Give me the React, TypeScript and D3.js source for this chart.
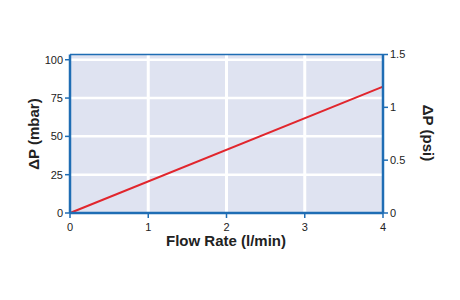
import React from "react";
import * as d3 from "d3";

const flowRate = [0, 4];
const pressureMbar = [0, 82.5];
const xTicks = [0, 1, 2, 3, 4];
const mbarTicks = [0, 25, 50, 75, 100];
const psiTicks = [0, 0.5, 1, 1.5];
const psiTickLabels = ["0", "0.5", "1", "1.5"];
const MBAR_PER_PSI = 68.9476;

export default function App() {
  const W = 460, H = 300;
  const left = 70, right = 383, top = 54.5, bottom = 213;
  const x = d3.scaleLinear().domain([0, 4]).range([left, right]);
  const yPsi = d3.scaleLinear().domain([0, 1.5]).range([bottom, top]);
  const yMbar = d3.scaleLinear().domain([0, 1.5 * MBAR_PER_PSI]).range([bottom, top]);
  const axisColor = "#1f6db4";
  const font = "'Liberation Sans', Arial, Helvetica, sans-serif";
  const line = d3.line<number>().x((_, i) => x(flowRate[i])).y((d) => yMbar(d));
  return (
    <svg width={W} height={H} style={{ position: "absolute", left: 0, top: 0, background: "#fff" }} fontFamily={font}>
      <rect x={left} y={top} width={right - left} height={bottom - top} fill="#dfe3f1" />
      {xTicks.slice(1, -1).map((t) => (
        <line key={"vx" + t} x1={x(t)} x2={x(t)} y1={top} y2={bottom} stroke="#fff" strokeWidth={3} />
      ))}
      {mbarTicks.slice(1).map((t) => (
        <line key={"hy" + t} x1={left} x2={right} y1={yMbar(t)} y2={yMbar(t)} stroke="#fff" strokeWidth={2.5} />
      ))}
      <path d={line(pressureMbar) || ""} fill="none" stroke="#e1262d" strokeWidth={2} />
      <line x1={left} x2={right} y1={top} y2={top} stroke={axisColor} strokeWidth={1.5} />
      <line x1={left} x2={left} y1={top} y2={bottom} stroke={axisColor} strokeWidth={2.5} />
      <line x1={right} x2={right} y1={top} y2={bottom} stroke={axisColor} strokeWidth={2.5} />
      <line x1={left} x2={right} y1={bottom} y2={bottom} stroke={axisColor} strokeWidth={2.5} />
      {mbarTicks.map((t) => (
        <g key={"lt" + t}>
          <line x1={left - 5} x2={left} y1={yMbar(t)} y2={yMbar(t)} stroke={axisColor} strokeWidth={1.5} />
          <text x={left - 7} y={yMbar(t)} dy="0.35em" textAnchor="end" fontSize={11} fill="#222">{t}</text>
        </g>
      ))}
      {psiTicks.map((t, i) => (
        <g key={"rt" + t}>
          <line x1={right} x2={right + 5} y1={yPsi(t)} y2={yPsi(t)} stroke={axisColor} strokeWidth={1.5} />
          <text x={right + 7} y={yPsi(t)} dy="0.35em" textAnchor="start" fontSize={11} fill="#222">{psiTickLabels[i]}</text>
        </g>
      ))}
      {xTicks.map((t) => (
        <g key={"bt" + t}>
          <line x1={x(t)} x2={x(t)} y1={bottom} y2={bottom + 5} stroke={axisColor} strokeWidth={1.5} />
          <text x={x(t)} y={bottom + 18} textAnchor="middle" fontSize={11} fill="#222">{t}</text>
        </g>
      ))}
      <text x={226} y={246} textAnchor="middle" fontSize={15} fontWeight="bold" fill="#222">Flow Rate (l/min)</text>
      <text transform={`translate(39,134) rotate(-90)`} textAnchor="middle" fontSize={15} fontWeight="bold" fill="#222">ΔP (mbar)</text>
      <text transform={`translate(423,133) rotate(90)`} textAnchor="middle" fontSize={15} fontWeight="bold" fill="#222">ΔP (psi)</text>
    </svg>
  );
}
